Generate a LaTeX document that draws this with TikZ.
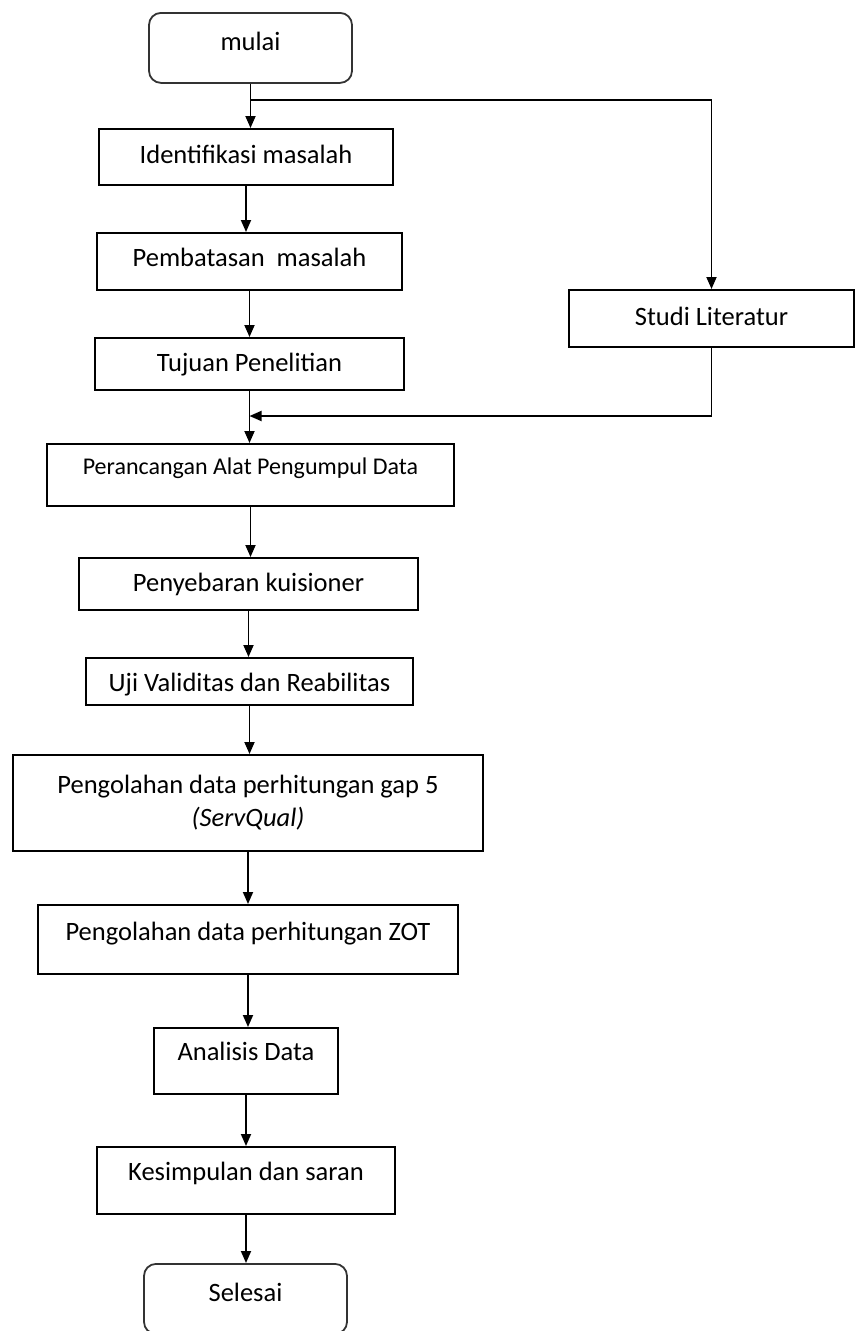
\documentclass[tikz,border=0pt]{standalone}
\usepackage{fontspec}
\setmainfont{Carlito}
\usetikzlibrary{arrows.meta}
\begin{document}
\begin{tikzpicture}[x=1pt,y=-1pt,
  box/.style={draw, line width=1.8pt, rectangle, inner xsep=0pt, inner ysep=0pt, anchor=north, font=\fontsize{26.5}{33}\selectfont},
  term/.style={box, rounded corners=12pt, draw=black!80},
  arr/.style={line width=1.8pt, -{Triangle[length=12pt,width=10pt]}}]
\useasboundingbox (0,0) rectangle (855,1331);
\coordinate (jb) at (0,100);
\coordinate (jr) at (0,416);
\node[term, minimum width=203pt, text height=38pt, text depth=32pt] (mulai) at (250.5,12) {mulai};
\node[box, minimum width=294pt, text height=35pt, text depth=21pt] (ident) at (246,128) {Identifikasi masalah};
\node[box, minimum width=305pt, text height=34pt, text depth=23pt] (pemb) at (249.5,232) {Pembatasan\ \ masalah};
\node[box, minimum width=309pt, text height=34pt, text depth=18pt] (tujuan) at (249.5,337) {Tujuan Penelitian};
\node[box, minimum width=285pt, text height=36pt, text depth=21pt] (studi) at (711.5,289) {Studi Literatur};
\node[box, minimum width=407pt, text height=31pt, text depth=31pt, font=\fontsize{24}{30}\selectfont] (peran) at (250.5,443) {Perancangan Alat Pengumpul Data};
\node[box, minimum width=339pt, text height=34pt, text depth=18pt] (peny) at (248.5,557) {Penyebaran kuisioner};
\node[box, minimum width=327pt, text height=34pt, text depth=13pt] (uji) at (249.5,657) {Uji Validitas dan Reabilitas};
\node[box, minimum width=470pt, minimum height=96pt, align=center] (gap) at (248,754) {Pengolahan data perhitungan gap 5\\\textit{(ServQual)}};
\node[box, minimum width=420pt, text height=36pt, text depth=33pt] (zot) at (248,904) {Pengolahan data perhitungan ZOT};
\node[box, minimum width=184pt, text height=33pt, text depth=33pt] (anal) at (246,1027) {Analisis Data};
\node[box, minimum width=298pt, text height=34pt, text depth=33pt] (kes) at (246,1146) {Kesimpulan dan saran};
\node[term, minimum width=203pt, text height=38pt, text depth=32pt] (sel) at (245.5,1263) {Selesai};
\draw[arr] (mulai.south) -- (mulai.south |- ident.north);
\draw[arr] (mulai.south |- jb) -| (studi.north);
\draw[arr] (ident.south) -- (ident.south |- pemb.north);
\draw[arr] (pemb.south) -- (pemb.south |- tujuan.north);
\draw[arr] (tujuan.south) -- (tujuan.south |- peran.north);
\draw[arr] (studi.south) |- (tujuan.south |- jr);
\draw[arr] (peran.south) -- (peran.south |- peny.north);
\draw[arr] (peny.south) -- (peny.south |- uji.north);
\draw[arr] (uji.south) -- (uji.south |- gap.north);
\draw[arr] (gap.south) -- (gap.south |- zot.north);
\draw[arr] (zot.south) -- (zot.south |- anal.north);
\draw[arr] (anal.south) -- (anal.south |- kes.north);
\draw[arr] (kes.south) -- (kes.south |- sel.north);
\end{tikzpicture}
\end{document}
